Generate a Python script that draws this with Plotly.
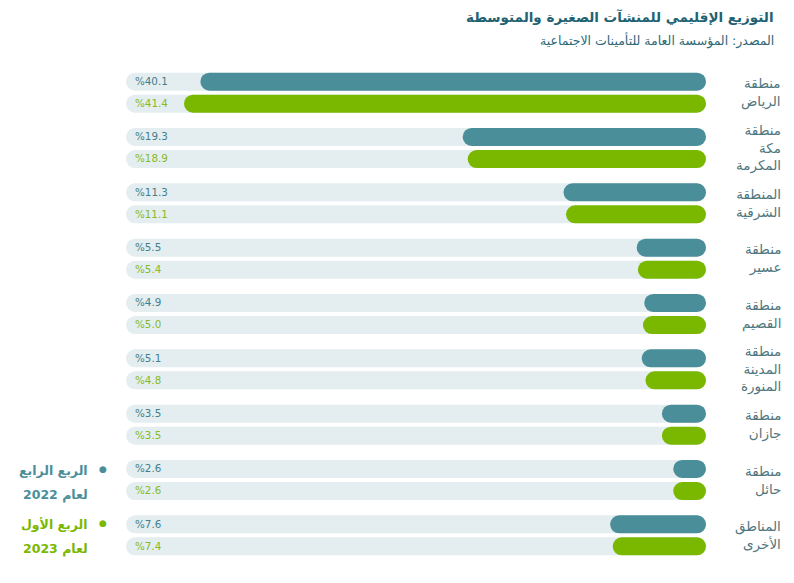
import plotly.graph_objects as go

regions = ["منطقة<br>الرياض", "منطقة<br>مكة<br>المكرمة", "المنطقة<br>الشرقية", "منطقة<br>عسير",
           "منطقة<br>القصيم", "منطقة<br>المدينة<br>المنورة", "منطقة<br>جازان", "منطقة<br>حائل",
           "المناطق<br>الأخرى"]
q4_2022 = [40.1, 19.3, 11.3, 5.5, 4.9, 5.1, 3.5, 2.6, 7.6]
q1_2023 = [41.4, 18.9, 11.1, 5.4, 5.0, 4.8, 3.5, 2.6, 7.4]
legend_line1 = ["الربع الرابع", "الربع الأول"]
legend_line2 = ["لعام 2022", "لعام 2023"]
title = "التوزيع الإقليمي للمنشآت الصغيرة والمتوسطة"
subtitle = "المصدر: المؤسسة العامة للتأمينات الاجتماعية"

AXIS_MAX = 46
TEAL = "#4a8e99"
GREEN = "#7ab800"
TRACK = "#e4edf0"
TEAL_TXT = "#437f8b"
GREEN_TXT = "#86bb22"
LABEL = "#4f7780"
FONT = "DejaVu Sans"

BAR_W = 0.326
OFFSETS = [-0.362, 0.036]

fig = go.Figure()
for vals, color, tcolor, off in [(q4_2022, TEAL, TEAL_TXT, OFFSETS[0]),
                                 (q1_2023, GREEN, GREEN_TXT, OFFSETS[1])]:
    zeros = [0] * len(vals)
    # background track with value label
    fig.add_trace(go.Bar(
        y=regions, x=[AXIS_MAX] * len(vals), base=zeros, orientation="h",
        width=BAR_W, offset=off, marker=dict(color=TRACK, cornerradius=9, line_width=0),
        text=["%" + f"{v:.1f}" for v in vals], textposition="inside",
        insidetextanchor="end", textangle=0,
        textfont=dict(family=FONT, size=12, color=tcolor),
        hoverinfo="skip", showlegend=False))
    # data bar (rounded on both ends)
    fig.add_trace(go.Bar(
        y=regions, x=vals, base=zeros, orientation="h",
        width=BAR_W, offset=off, marker=dict(color=color, cornerradius=9, line_width=0),
        hoverinfo="skip", showlegend=False))

annotations = []
for r in regions:
    annotations.append(dict(
        text=r, xref="paper", yref="y", x=1.133, y=r, xanchor="right", yanchor="middle",
        align="right", showarrow=False, font=dict(family=FONT, size=13.5, color=LABEL)))

annotations.append(dict(text="<b>" + title + "</b>", xref="paper", yref="paper",
                        x=1.1207, y=1.096, xanchor="right", yanchor="middle", showarrow=False,
                        font=dict(family=FONT, size=13.5, color="#1f6272")))
annotations.append(dict(text=subtitle, xref="paper", yref="paper",
                        x=1.1207, y=1.050, xanchor="right", yanchor="middle", showarrow=False,
                        font=dict(family=FONT, size=12.5, color="#2e6877")))

# legend built as annotations (RTL: marker on the right)
for l1, l2, color, cat, s1, s2 in [(legend_line1[0], legend_line2[0], TEAL, regions[7], 10, -15),
                                   (legend_line1[1], legend_line2[1], GREEN, regions[8], 11, -14)]:
    annotations.append(dict(text="<b>" + l1 + "</b>", xref="paper", yref="y",
                            x=-0.062, y=cat, xanchor="right", yanchor="middle", yshift=s1,
                            showarrow=False, font=dict(family=FONT, size=12.5, color=color)))
    annotations.append(dict(text="<b>" + l2 + "</b>", xref="paper", yref="y",
                            x=-0.062, y=cat, xanchor="right", yanchor="middle", yshift=s2,
                            showarrow=False, font=dict(family=FONT, size=12.5, color=color)))
    annotations.append(dict(text="●", xref="paper", yref="y", x=-0.040, y=cat,
                            xanchor="center", yanchor="middle", yshift=s1 + 1, showarrow=False,
                            font=dict(family=FONT, size=9, color=color)))

fig.update_layout(
    barmode="overlay",
    width=794, height=583,
    margin=dict(l=126, r=88, t=65, b=20),
    paper_bgcolor="white", plot_bgcolor="white",
    xaxis=dict(range=[AXIS_MAX, 0], visible=False, fixedrange=True),
    yaxis=dict(autorange="reversed", visible=False, type="category", fixedrange=True),
    annotations=annotations,
    font=dict(family=FONT),
)

fig.write_html("out.html")
